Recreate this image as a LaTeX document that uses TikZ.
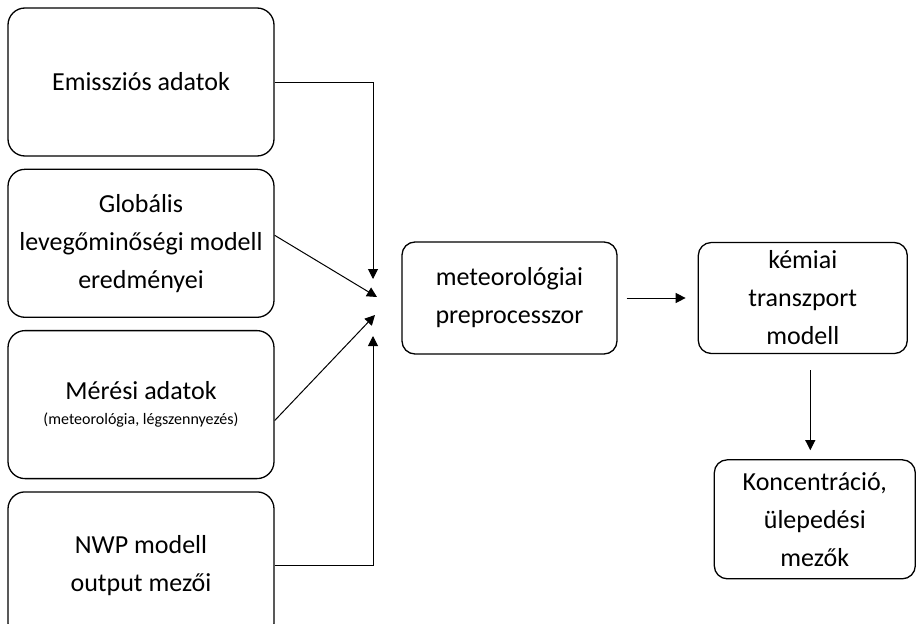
\documentclass[tikz,border=0pt]{standalone}
\usepackage{fontspec}
\setmainfont{Carlito}
\usetikzlibrary{positioning,arrows.meta}
\tikzset{
  node distance=12pt and 80pt,
  src/.style={draw, line width=1.3pt, rounded corners=17pt, align=center,
              minimum width=266pt, minimum height=148pt, inner sep=0pt,
              font=\fontsize{26}{38}\selectfont},
  proc/.style={draw, line width=1.3pt, rounded corners=13pt, align=center,
               inner sep=0pt, font=\fontsize{26}{38}\selectfont},
  flow/.style={-{Triangle[length=10pt,width=10pt]}, line width=1pt},
}

\begin{document}
\begin{tikzpicture}[x=1pt, y=-1pt]
    \useasboundingbox (0,0) rectangle (916,624);
    \clip (0,0) rectangle (916,624);

    \node[src] (emis) at (141,82) {Emissziós adatok};
    \node[src, below=of emis] (glob) {Globális\\levegőminőségi modell\\eredményei};
    \node[src, below=of glob] (meres) {Mérési adatok\\[-13pt]{\fontsize{16}{20}\selectfont (meteorológia, légszennyezés)}};
    \node[src, below=of meres] (nwp) {NWP modell\\output mezői};

    \node[proc, minimum width=215pt, minimum height=112pt] (meteo) at (509.5,298) {meteorológiai\\preprocesszor};
    \node[proc, minimum width=209pt, minimum height=111pt, right=of meteo] (kemiai) {kémiai\\transzport\\modell};
    \node[proc, minimum width=201pt, minimum height=119pt, below=105pt of kemiai, xshift=12pt] (konc) {Koncentráció,\\ülepedési\\mezők};

    \coordinate (in1) at (373,279);
    \coordinate (in2) at (377,297);
    \coordinate (in3) at (375,315);
    \coordinate (in4) at (373,336);
    \coordinate (k1) at ([xshift=7.5pt]kemiai.south);

    \draw[flow] (emis.east) -| (in1);
    \draw[flow] ([yshift=8pt]glob.east) -- (in2);
    \draw[flow] ([yshift=-16pt]meres.east) -- (in3);
    \draw[flow] (nwp.east) -| (in4);

    \draw[flow, shorten <=9pt, shorten >=12pt] (meteo) -- (kemiai);
    \draw[flow, shorten <=16pt, shorten >=9pt] (k1) -- (k1 |- konc.north);
\end{tikzpicture}
\end{document}
